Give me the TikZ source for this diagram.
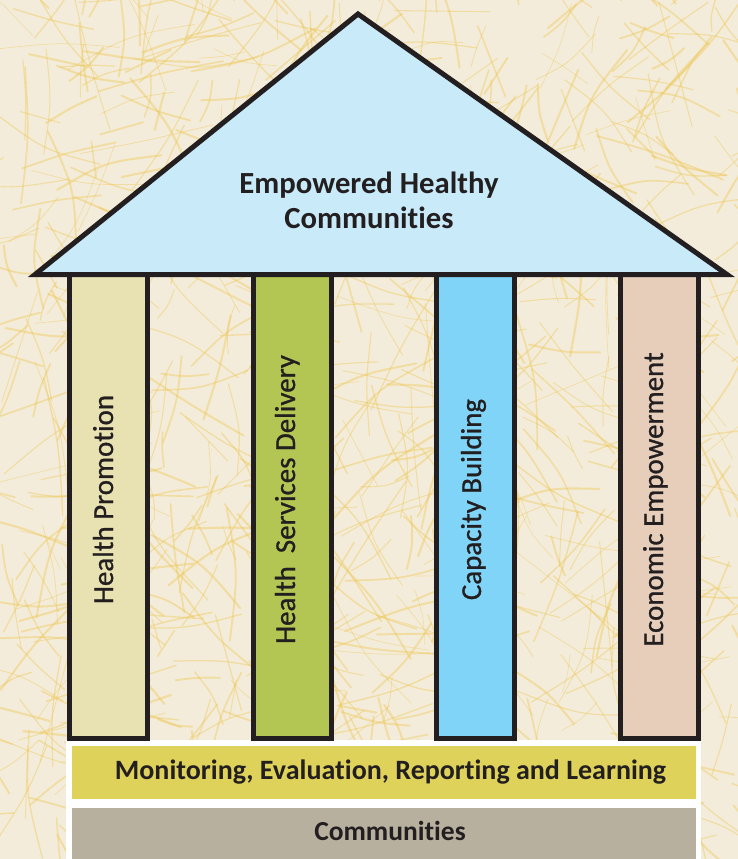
\documentclass[tikz,border=0pt]{standalone}
\usepackage{fontspec}
\setmainfont{Carlito}[RawFeature=-liga]
\newfontfamily\pillarfont{Carlito}[RawFeature=-liga, FakeBold=0.9]
\begin{document}
\definecolor{ink}{HTML}{231F20}
\definecolor{paper}{HTML}{F3ECDA}
\definecolor{fibre}{HTML}{EEC650}
\definecolor{roofblue}{HTML}{C8EAF9}
\definecolor{promo}{HTML}{E8E2B2}
\definecolor{service}{HTML}{B3C552}
\definecolor{capacity}{HTML}{80D4F7}
\definecolor{economic}{HTML}{E6CEBB}
\definecolor{merl}{HTML}{DED25A}
\definecolor{ground}{HTML}{B8B09E}
\tikzset{
  outline/.style={draw=ink, line width=5pt, line join=miter},
  pillar/.style={outline, rectangle, inner sep=0pt, minimum width=78pt, minimum height=464pt},
  pillartext/.style={text=ink, rotate=90, anchor=base, inner sep=0pt,
    font=\pillarfont\fontsize{28.9}{32}\selectfont},
  roottext/.style={text=ink, align=center, inner sep=0pt,
    font=\fontsize{30.7}{35}\selectfont\bfseries},
  bandtext/.style={text=ink, anchor=base, inner sep=0pt,
    font=\fontsize{28}{30}\selectfont\bfseries},
  band/.style={rectangle, inner sep=0pt, minimum width=624pt, draw=none},
  fiber/.style={draw=fibre, line cap=round, opacity=0.4}
}
\begin{tikzpicture}[x=1pt, y=-1pt]
  \useasboundingbox (0,0) rectangle (738,859);
  % textured paper backdrop
  \fill[paper] (0,0) rectangle (738,859);
  \begin{scope}
    \clip (0,0) rectangle (738,859);
    \pgfmathsetseed{4242}
    \foreach \i in {1,...,900}{
      \pgfmathsetmacro\fx{rnd*738}
      \pgfmathsetmacro\fy{rnd*859}
      \pgfmathsetmacro\fa{rnd*360}
      \pgfmathsetmacro\fl{30+rnd*110}
      \pgfmathsetmacro\fb{\fa+(rnd-0.5)*24}
      \pgfmathsetmacro\fw{0.6+rnd*1.6}
      \draw[fiber, line width=\fw pt] (\fx,\fy) .. controls +(\fa:\fl/2) .. +(\fb:\fl);
    }
  \end{scope}

  % base platform
  \fill[white] (66,740) rectangle (701,859);
  \node[band, fill=merl, minimum height=53pt, anchor=north west] (merlband) at (72,746) {};
  \node[band, fill=ground, minimum height=52pt, anchor=north west] (groundband) at (72,808) {};
  \node[bandtext] (merltext) at (390.5,779) {Monitoring, Evaluation, Reporting and Learning};
  \node[bandtext, font=\fontsize{27.5}{30}\selectfont\bfseries] (groundtext) at (390,840) {Communities};

  % pillars
  \node[pillar, fill=promo] (p1) at (108,506.5) {};
  \node[pillar, fill=service] (p2) at (292,506.5) {};
  \node[pillar, fill=capacity] (p3) at (475.5,506.5) {};
  \node[pillar, fill=economic] (p4) at (659.5,506.5) {};
  \node[pillartext] (t1) at (113,499.5) {Health Promotion};
  \node[pillartext] (t2) at (295,499.5) {Health~~Services Delivery};
  \node[pillartext] (t3) at (481,499.5) {Capacity Building};
  \node[pillartext] (t4) at (663,499.5) {Economic Empowerment};

  % roof
  \coordinate (roofL) at (35,274.5);
  \coordinate (roofTop) at (358,14);
  \coordinate (roofR) at (727,274.5);
  \filldraw[outline, fill=roofblue] (roofL) -- (roofTop) -- (roofR) -- cycle;
  \node[roottext] (rooftext) at (369,200) {Empowered Healthy\\Communities};
\end{tikzpicture}
\end{document}
